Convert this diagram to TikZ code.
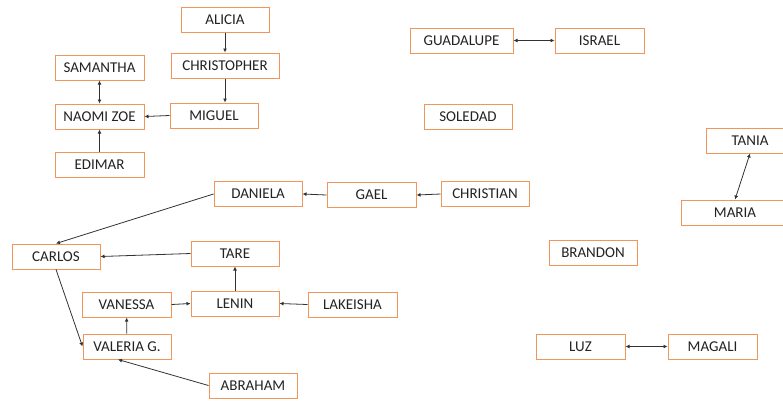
\documentclass[tikz,border=0pt]{standalone}
\usepackage{fontspec}
\setmainfont{Carlito}
\usetikzlibrary{arrows.meta}
\definecolor{boxor}{RGB}{240,150,90}
\definecolor{txt}{RGB}{35,35,35}
\definecolor{ln}{RGB}{50,50,50}
\begin{document}
\begin{tikzpicture}[x=1pt,y=-1pt,
  person/.style={draw=boxor,line width=1pt,minimum height=25pt,inner sep=0pt,
    text=txt,font=\fontsize{15}{17}\selectfont,fill=white},
  link/.style={draw=ln,line width=0.8pt,-{Latex[length=4pt,width=4pt]}},
  dlink/.style={draw=ln,line width=0.8pt,{Latex[length=4pt,width=4pt]}-{Latex[length=4pt,width=4pt]}}]
\useasboundingbox (0,0) rectangle (783,400);
\node[person,minimum width=88pt] (alicia) at (225,19.5) {ALICIA};
\node[person,minimum width=108pt] (christopher) at (225,65.5) {CHRISTOPHER};
\node[person,minimum width=89pt] (samantha) at (99.5,67.5) {SAMANTHA};
\node[person,minimum width=89pt] (naomi) at (99.5,116.5) {NAOMI ZOE};
\node[person,minimum width=88pt] (miguel) at (214,115.5) {MIGUEL};
\node[person,minimum width=89pt] (edimar) at (99.5,164.5) {EDIMAR};
\node[person,minimum width=88pt] (daniela) at (258,194) {DANIELA};
\node[person,minimum width=89pt] (gael) at (371.5,195) {GAEL};
\node[person,minimum width=88pt] (christian) at (485,194) {CHRISTIAN};
\node[person,minimum width=88pt] (carlos) at (56,256.5) {CARLOS};
\node[person,minimum width=88pt] (tare) at (235,253.5) {TARE};
\node[person,minimum width=89pt] (vanessa) at (126.5,304.5) {VANESSA};
\node[person,minimum width=88pt] (lenin) at (235,303.5) {LENIN};
\node[person,minimum width=89pt] (lakeisha) at (352.5,304.5) {LAKEISHA};
\node[person,minimum width=88pt] (valeria) at (127,346.5) {VALERIA G.};
\node[person,minimum width=88pt] (abraham) at (253,385.5) {ABRAHAM};
\node[person,minimum width=103pt] (guadalupe) at (461.5,40.5) {GUADALUPE};
\node[person,minimum width=89pt] (israel) at (599.5,40.5) {ISRAEL};
\node[person,minimum width=88pt] (soledad) at (468,117) {SOLEDAD};
\node[person,minimum width=88pt] (tania) at (750,140.5) {TANIA};
\node[person,minimum width=108pt] (maria) at (735,212.5) {MARIA};
\node[person,minimum width=88pt] (brandon) at (593,253) {BRANDON};
\node[person,minimum width=89pt] (luz) at (580.5,346.5) {LUZ};
\node[person,minimum width=89pt] (magali) at (712.5,346.5) {MAGALI};
\draw[link] (alicia) -- (christopher);
\draw[link] (christopher.south) -- (christopher.south |- miguel.north);
\draw[link] (miguel.west) -- (naomi.east);
\draw[dlink] (samantha) -- (naomi);
\draw[link] (edimar) -- (naomi);
\draw[link] (gael.west) -- (daniela.east);
\draw[link] (christian.west) -- (gael.east);
\draw[link] (daniela.west) -- (carlos.north);
\draw[link] (tare.west) -- (carlos.east);
\draw[link] (lenin) -- (tare);
\draw[link] (vanessa.east) -- (lenin.west);
\draw[link] (lakeisha.west) -- (lenin.east);
\draw[link] (valeria) -- (vanessa);
\draw[link] (carlos.south) -- (valeria.west);
\draw[link] (abraham.west) -- ([xshift=-9pt]valeria.south);
\draw[dlink] (guadalupe) -- (israel);
\draw[dlink] (tania.south) -- (maria.north);
\draw[dlink] (luz) -- (magali);
\end{tikzpicture}
\end{document}
